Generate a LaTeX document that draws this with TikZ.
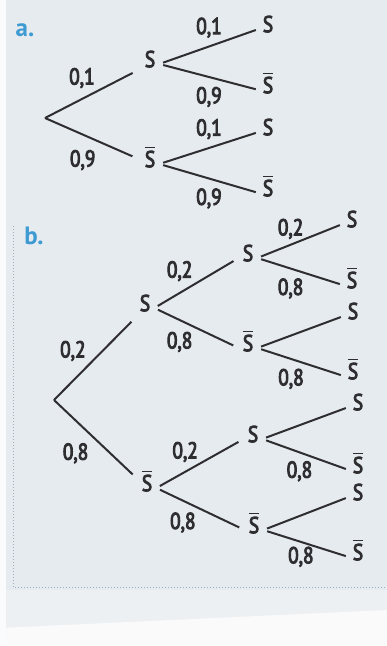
\documentclass[tikz,border=0pt]{standalone}
\usepackage{amsmath, amssymb, xcolor}
\usepackage{fontspec}
\newfontfamily\treefont[FakeStretch=0.84, RawFeature={embolden=4}]{PT Sans}
\newfontfamily\partfont{PT Sans}
\usetikzlibrary{arrows.meta}

\definecolor{paper}{HTML}{E6EBF0}
\definecolor{paperlow}{HTML}{EDF0F3}
\definecolor{ink}{HTML}{2E2E30}
\definecolor{partblue}{HTML}{3E9AD2}
\definecolor{dotline}{HTML}{9AAFC2}

\newcommand{\nS}{$\overline{\mbox{S}}$}

\tikzset{
  ev/.style={font=\treefont\fontsize{23}{26}\selectfont, text=ink, inner sep=4pt, text height=1.45ex, text depth=0pt},
  pr/.style={font=\treefont\fontsize{23}{26}\selectfont, text=ink, inner sep=2pt},
  br/.style={draw=ink, line width=2pt, shorten <=4pt, shorten >=3pt},
  first/.style={shorten <=0pt, shorten >=9pt},
  part/.style={font=\partfont\bfseries\fontsize{25}{28}\selectfont, text=partblue},
}

\begin{document}
\begin{tikzpicture}[x=1pt, y=-1pt]
    % fond
    \fill[paper] (0,0) rectangle (387,646);
    \fill[paperlow] (0,590) rectangle (387,646);
    \fill[white!70!paperlow] (0,628) -- (387,610) -- (387,646) -- (0,646) -- cycle;
    \fill[white!80!paper] (0,0) rectangle (6,646);
    \useasboundingbox (0,0) rectangle (387,646);
    \draw[dotline, dotted, line width=1pt] (13,226) -- (13,587) -- (387,587);

    % a.
    \node[part] (la) at (25,30) {a.};
    \coordinate (aR) at (45,118);
    \node[ev] (aS) at (150,64) {S};
    \node[ev] (aN) at (150,164) {\nS};
    \node[ev] (aSS) at (268,29) {S};
    \node[ev] (aSN) at (268,90) {\nS};
    \node[ev] (aNS) at (268,132) {S};
    \node[ev] (aNN) at (268,193) {\nS};
    \draw[br, first] (aR) -- (aS) node[pr, pos=.55, above left] {0,1};
    \draw[br, first] (aR) -- (aN) node[pr, pos=.6, below left=4pt] {0,9};
    \draw[br] (aS.east) -- (aSS.west) node[pr, midway, above=6pt] {0,1};
    \draw[br] (aS.east) -- (aSN.west) node[pr, midway, below=7pt] {0,9};
    \draw[br] (aN.east) -- (aNS.west) node[pr, midway, above=6pt] {0,1};
    \draw[br] (aN.east) -- (aNN.west) node[pr, midway, below=7pt] {0,9};

    % b.
    \node[part] (lb) at (34,236) {b.};
    \coordinate (bR) at (54,400);
    \node[ev] (bS) at (145,308) {S};
    \node[ev] (bN) at (147,488) {\nS};
    \node[ev] (bSS) at (248,258) {S};
    \node[ev] (bSN) at (248,348) {\nS};
    \node[ev] (bNS) at (253,439) {S};
    \node[ev] (bNN) at (254,530) {\nS};
    \node[ev] (bSSS) at (352,224) {S};
    \node[ev] (bSSN) at (352,285) {\nS};
    \node[ev] (bSNS) at (353,316) {S};
    \node[ev] (bSNN) at (353,376) {\nS};
    \node[ev] (bNSS) at (358,407) {S};
    \node[ev] (bNSN) at (358,470) {\nS};
    \node[ev] (bNNS) at (358,497) {S};
    \node[ev] (bNNN) at (358,557) {\nS};
    \draw[br, first] (bR) -- (bS) node[pr, pos=.58, left=14pt] {0,2};
    \draw[br, first] (bR) -- (bN) node[pr, pos=.66, left=19pt] {0,8};
    \draw[br, shorten >=6pt] (bS.east) -- (bSS.west) node[pr, pos=.3, above=9pt] {0,2};
    \draw[br, shorten >=6pt] (bS.east) -- (bSN.west) node[pr, pos=.3, below=9pt] {0,8};
    \draw[br, shorten >=6pt] (bN.east) -- (bNS.west) node[pr, pos=.33, above=7pt] {0,2};
    \draw[br, shorten >=6pt] (bN.east) -- (bNN.west) node[pr, pos=.3, below=9pt] {0,8};
    \draw[br] (bSS.east) -- (bSSS.west) node[pr, pos=.39, above=3pt] {0,2};
    \draw[br] (bSS.east) -- (bSSN.west) node[pr, pos=.39, below=7pt] {0,8};
    \draw[br] (bSN.east) -- (bSNS.west);
    \draw[br] (bSN.east) -- (bSNN.west) node[pr, pos=.39, below=7pt] {0,8};
    \draw[br] (bNS.east) -- (bNSS.west);
    \draw[br] (bNS.east) -- (bNSN.west) node[pr, pos=.43, below=6pt] {0,8};
    \draw[br] (bNN.east) -- (bNNS.west);
    \draw[br] (bNN.east) -- (bNNN.west) node[pr, pos=.44, below=2pt] {0,8};
\end{tikzpicture}
\end{document}
